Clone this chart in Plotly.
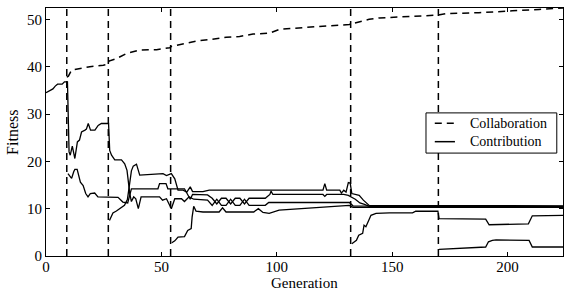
import plotly.graph_objects as go

# Collaboration fitness (dashed)
collab_gen = [9, 9.7, 11.1, 14.7, 19, 24.8, 26.9, 27.3, 30.5, 34.9, 40.6, 47.9, 53.6, 54.3, 60.8, 65.1,
              71, 78.1, 83.9, 89.7, 96.9, 101.2, 112.7, 122.8, 131.4, 134.3, 140, 144.4, 158.8, 169.8,
              173.2, 187.6, 202, 209.3, 213.6, 224]
collab_fit = [37.8, 38.0, 39.3, 39.6, 40.0, 40.3, 40.5, 41.2, 41.7, 42.8, 43.5, 43.6, 44.0, 44.3, 44.9, 45.4,
              45.75, 46.2, 46.4, 46.9, 47.1, 47.9, 48.3, 48.6, 48.9, 49.3, 50.0, 50.3, 50.7, 50.9,
              51.2, 51.4, 51.8, 51.9, 52.1, 52.4]

# Contribution of each species (solid)
sp1_gen = [0, 1, 2, 3, 4, 5, 7, 8, 9.3, 10, 10.5, 11.4, 12.5, 13.6, 14.5, 15.4, 16.9, 17.5, 18.3, 19.3, 21.2,
           22.6, 24, 27.1, 27.6, 28.4, 29.8, 32.7, 34.1, 35.1, 36.3, 37, 38, 38.9, 40, 41.2, 49.2, 50.5, 52.2,
           54.3, 55.8, 58.7, 60, 62, 64, 70, 72, 74, 76, 78, 80, 82, 84, 86, 88, 95, 96.5, 131.4, 133, 224]
sp1_fit = [34.5, 34.8, 35.0, 35.3, 35.9, 36.3, 36.3, 36.8, 36.8, 22.0, 21.3, 23.2, 20.6, 24.1, 24.5, 26.2, 26.6,
           26.8, 28.0, 26.6, 26.6, 27.6, 28.0, 28.0, 22.3, 21.3, 20.3, 20.3, 19.5, 18.1, 13.2, 11.5, 12.5, 12.1,
           10.0, 12.5, 12.5, 11.8, 12.1, 10.0, 12.1, 12.1, 11.5, 12.5, 12.0, 11.8, 10.7, 12.0, 10.7, 10.7, 12.0,
           10.7, 10.7, 12.0, 10.7, 10.7, 11.3, 11.3, 10.6, 10.5]

sp2_gen = [9.5, 10.4, 11.1, 12, 12.5, 13.5, 14.9, 16.1, 17.2, 18.2, 19.2, 21.1, 22.5, 31.2, 33.3, 35.4, 36.3, 37,
           48.5, 49.2, 52, 52.8, 60, 62.5, 63.5, 70, 72, 74, 76, 78, 80, 82, 84, 86, 88, 95, 97, 97.5, 98.3,
           120, 120.8, 121.6, 129, 131, 134, 136, 138, 140, 224]
sp2_fit = [17.4, 16.8, 16.4, 17.8, 18.3, 18.3, 15.6, 14.9, 13.2, 12.5, 13.2, 13.3, 12.5, 12.4, 11.4, 11.2, 13.2,
           14.2, 14.2, 15.3, 15.3, 14.2, 14.2, 12.0, 13.0, 12.9, 12.2, 11.0, 12.2, 12.2, 11.0, 12.2, 12.2, 11.0,
           12.2, 12.2, 13.0, 13.7, 13.0, 13.0, 12.6, 13.0, 13.0, 12.8, 12.0, 11.2, 10.9, 10.5, 10.4]

sp3_gen = [27.5, 29, 30.5, 31.9, 34, 35.3, 36, 37, 37.8, 39.2, 40.6, 50.7, 52.2, 54.3, 55.8, 57.2, 59.4, 61,
           62.5, 63.5, 68, 70.7, 120, 120.8, 121.6, 127.3, 128, 129, 130, 131, 131.8, 132.5, 135.7, 137.5, 140,
           224]
sp3_fit = [7.5, 9.1, 9.5, 10.0, 10.7, 12.0, 15.0, 18.0, 19.0, 19.4, 17.1, 17.4, 17.0, 17.4, 16.3, 13.9, 13.9,
           13.5, 14.6, 13.6, 13.6, 13.9, 13.9, 15.3, 13.9, 13.9, 13.3, 13.9, 13.5, 15.5, 15.4, 13.2, 12.8, 11.8,
           10.7, 10.6]

sp4_gen = [54.5, 55.8, 57.2, 60, 61.4, 62.9, 63.3, 64, 65, 68, 75, 76.5, 78, 90, 92, 94, 96.7, 101, 131.4, 133, 224]
sp4_fit = [2.8, 3.2, 4.0, 4.1, 5.4, 5.8, 8.2, 10.5, 9.5, 9.3, 9.3, 10.2, 9.3, 9.3, 10.0, 9.2, 9.0, 9.7, 10.7,
           10.3, 10.3]

sp5_gen = [132.5, 134.5, 135.5, 137.2, 137.8, 138.6, 139.8, 140.8, 143, 148.8, 158.8, 160.2, 169.8, 170.3,
           190.5, 192, 209, 210.7, 224]
sp5_fit = [2.6, 3.3, 4.4, 4.8, 6.5, 6.2, 7.5, 8.6, 9.0, 9.1, 9.1, 9.45, 9.45, 7.9, 7.8, 6.6, 6.8, 8.5, 8.6]

sp6_gen = [170.3, 190.5, 191.7, 193.4, 195, 209.3, 210.7, 224]
sp6_fit = [1.4, 1.9, 3.0, 3.3, 3.4, 3.3, 1.9, 1.9]

# Generations at which a new species was added
new_species_gen = [9, 27, 54, 132, 170]

x_ticks = [0, 50, 100, 150, 200]
y_ticks = [0, 10, 20, 30, 40, 50]

series_names = ["Collaboration", "Contribution"]

FONT = "Liberation Serif"
DASH = "7px,5px"

fig = go.Figure()
fig.add_trace(go.Scatter(x=collab_gen, y=collab_fit, mode="lines", name=series_names[0],
                         showlegend=False, line=dict(color="black", width=1.5, dash=DASH)))
species = [(sp1_gen, sp1_fit), (sp2_gen, sp2_fit), (sp3_gen, sp3_fit),
           (sp4_gen, sp4_fit), (sp5_gen, sp5_fit), (sp6_gen, sp6_fit)]
for g, f in species:
    fig.add_trace(go.Scatter(x=g, y=f, mode="lines", name=series_names[1],
                             showlegend=False, line=dict(color="black", width=1.3)))

for g in new_species_gen:
    fig.add_shape(type="line", xref="x", yref="paper", x0=g, x1=g, y0=0, y1=1,
                  line=dict(color="black", width=1.5, dash=DASH))

# Legend box (drawn to match the compact matplotlib-style legend)
fig.add_shape(type="rect", xref="paper", yref="paper", x0=0.735, x1=0.988, y0=0.415, y1=0.577,
              line=dict(color="black", width=1), fillcolor="white", layer="above")
legend_rows_y = [0.535, 0.461]
fig.add_shape(type="line", xref="paper", yref="paper", x0=0.752, x1=0.791,
              y0=legend_rows_y[0], y1=legend_rows_y[0],
              line=dict(color="black", width=1.5, dash=DASH), layer="above")
fig.add_shape(type="line", xref="paper", yref="paper", x0=0.752, x1=0.791,
              y0=legend_rows_y[1], y1=legend_rows_y[1],
              line=dict(color="black", width=1.5), layer="above")

axis_common = dict(showline=True, linecolor="black", linewidth=1, mirror="allticks",
                   ticks="inside", ticklen=4, tickcolor="black", showgrid=False, zeroline=False,
                   automargin=False,
                   tickfont=dict(family=FONT, size=15, color="black"))

annotations = [
    dict(text="Generation", xref="paper", yref="paper", x=0.5, y=-0.109,
         xanchor="center", yanchor="middle", showarrow=False, borderpad=0,
         font=dict(family=FONT, size=15, color="black")),
    dict(text="Fitness", xref="paper", yref="paper", x=-0.066, y=0.5, textangle=-90,
         xanchor="center", yanchor="middle", showarrow=False,
         font=dict(family=FONT, size=16, color="black")),
]
for name, ry in zip(series_names, legend_rows_y):
    annotations.append(dict(text=name, xref="paper", yref="paper", x=0.816, y=ry,
                            xanchor="left", yanchor="middle", showarrow=False,
                            font=dict(family=FONT, size=14, color="black")))

fig.update_layout(
    width=581, height=291,
    margin=dict(l=46, r=18, t=8, b=35),
    paper_bgcolor="white", plot_bgcolor="white",
    font=dict(family=FONT, color="black"),
    xaxis=dict(range=[0, 224], tickvals=x_ticks, ticklabelstandoff=-3, **axis_common),
    yaxis=dict(range=[0, 52.4], tickvals=y_ticks, **axis_common),
    showlegend=False,
    annotations=annotations,
)

fig.write_html("out.html", config={"displayModeBar": False},
               post_script="document.body.style.margin='0px';")
